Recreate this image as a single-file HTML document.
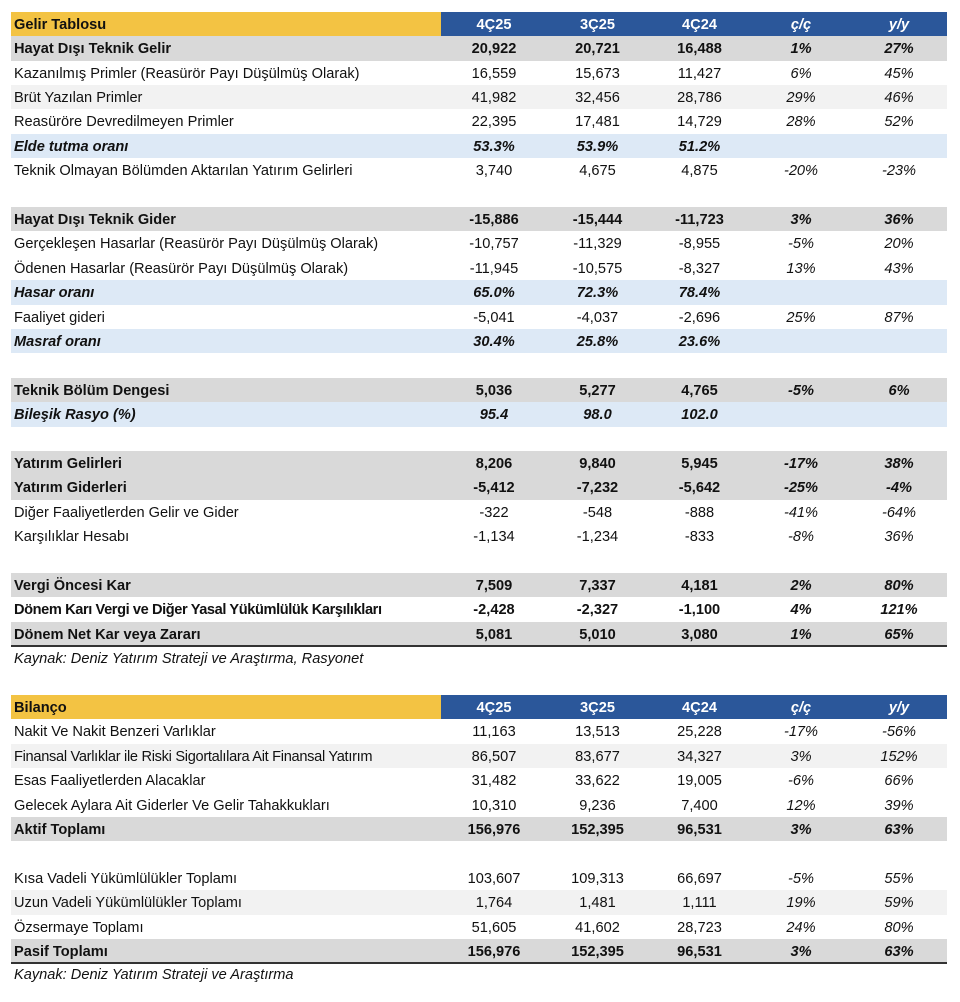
<!DOCTYPE html>
<html><head><meta charset="utf-8"><style>
body{margin:0;width:960px;height:1002px;background:#fff;position:relative;font-family:"Liberation Sans",sans-serif;font-size:14.6px;color:#111;overflow:hidden}
.r{position:absolute;left:11px;width:936px;height:24.4px;line-height:26px;display:flex;white-space:nowrap}
.r div{text-align:center}
.r .l{width:427px;padding-left:3px;text-align:left}
.c1{width:106px}.c2{width:101px}.c3{width:103px}.c4{width:100px}.c5{width:96px}
.c4,.c5{font-style:italic}
.b{background:#d9d9d9;font-weight:bold}
.bw{font-weight:bold}
.q{background:#dde9f6;font-weight:bold;font-style:italic}
.a{background:#f2f2f2}
.h .l{background:#f3c343;font-weight:bold}
.h{background:#2b579a;font-weight:bold}
.h div:not(.l){color:#fff}
.line{border-bottom:2px solid #333}
.src{position:absolute;left:14px;font-style:italic;font-size:14.6px}
</style></head><body>
<div class="r h" style="top:11.8px"><div class="l">Gelir Tablosu</div><div class="c1">4Ç25</div><div class="c2">3Ç25</div><div class="c3">4Ç24</div><div class="c4">ç/ç</div><div class="c5">y/y</div></div>
<div class="r b" style="top:36.2px"><div class="l">Hayat Dışı Teknik Gelir</div><div class="c1">20,922</div><div class="c2">20,721</div><div class="c3">16,488</div><div class="c4">1%</div><div class="c5">27%</div></div>
<div class="r" style="top:60.6px"><div class="l">Kazanılmış Primler (Reasürör Payı Düşülmüş Olarak)</div><div class="c1">16,559</div><div class="c2">15,673</div><div class="c3">11,427</div><div class="c4">6%</div><div class="c5">45%</div></div>
<div class="r a" style="top:85px"><div class="l">Brüt Yazılan Primler</div><div class="c1">41,982</div><div class="c2">32,456</div><div class="c3">28,786</div><div class="c4">29%</div><div class="c5">46%</div></div>
<div class="r" style="top:109.4px"><div class="l">Reasüröre Devredilmeyen Primler</div><div class="c1">22,395</div><div class="c2">17,481</div><div class="c3">14,729</div><div class="c4">28%</div><div class="c5">52%</div></div>
<div class="r q" style="top:133.8px"><div class="l">Elde tutma oranı</div><div class="c1">53.3%</div><div class="c2">53.9%</div><div class="c3">51.2%</div><div class="c4"></div><div class="c5"></div></div>
<div class="r" style="top:158.2px"><div class="l">Teknik Olmayan Bölümden Aktarılan Yatırım Gelirleri</div><div class="c1">3,740</div><div class="c2">4,675</div><div class="c3">4,875</div><div class="c4">-20%</div><div class="c5">-23%</div></div>
<div class="r b" style="top:207px"><div class="l">Hayat Dışı Teknik Gider</div><div class="c1">-15,886</div><div class="c2">-15,444</div><div class="c3">-11,723</div><div class="c4">3%</div><div class="c5">36%</div></div>
<div class="r" style="top:231.4px"><div class="l">Gerçekleşen Hasarlar (Reasürör Payı Düşülmüş Olarak)</div><div class="c1">-10,757</div><div class="c2">-11,329</div><div class="c3">-8,955</div><div class="c4">-5%</div><div class="c5">20%</div></div>
<div class="r" style="top:255.8px"><div class="l">Ödenen Hasarlar (Reasürör Payı Düşülmüş Olarak)</div><div class="c1">-11,945</div><div class="c2">-10,575</div><div class="c3">-8,327</div><div class="c4">13%</div><div class="c5">43%</div></div>
<div class="r q" style="top:280.2px"><div class="l">Hasar oranı</div><div class="c1">65.0%</div><div class="c2">72.3%</div><div class="c3">78.4%</div><div class="c4"></div><div class="c5"></div></div>
<div class="r" style="top:304.6px"><div class="l">Faaliyet gideri</div><div class="c1">-5,041</div><div class="c2">-4,037</div><div class="c3">-2,696</div><div class="c4">25%</div><div class="c5">87%</div></div>
<div class="r q" style="top:329px"><div class="l">Masraf oranı</div><div class="c1">30.4%</div><div class="c2">25.8%</div><div class="c3">23.6%</div><div class="c4"></div><div class="c5"></div></div>
<div class="r b" style="top:377.8px"><div class="l">Teknik Bölüm Dengesi</div><div class="c1">5,036</div><div class="c2">5,277</div><div class="c3">4,765</div><div class="c4">-5%</div><div class="c5">6%</div></div>
<div class="r q" style="top:402.2px"><div class="l">Bileşik Rasyo (%)</div><div class="c1">95.4</div><div class="c2">98.0</div><div class="c3">102.0</div><div class="c4"></div><div class="c5"></div></div>
<div class="r b" style="top:451px"><div class="l">Yatırım Gelirleri</div><div class="c1">8,206</div><div class="c2">9,840</div><div class="c3">5,945</div><div class="c4">-17%</div><div class="c5">38%</div></div>
<div class="r b" style="top:475.4px"><div class="l">Yatırım Giderleri</div><div class="c1">-5,412</div><div class="c2">-7,232</div><div class="c3">-5,642</div><div class="c4">-25%</div><div class="c5">-4%</div></div>
<div class="r" style="top:499.8px"><div class="l">Diğer Faaliyetlerden Gelir ve Gider</div><div class="c1">-322</div><div class="c2">-548</div><div class="c3">-888</div><div class="c4">-41%</div><div class="c5">-64%</div></div>
<div class="r" style="top:524.2px"><div class="l">Karşılıklar Hesabı</div><div class="c1">-1,134</div><div class="c2">-1,234</div><div class="c3">-833</div><div class="c4">-8%</div><div class="c5">36%</div></div>
<div class="r b" style="top:573px"><div class="l">Vergi Öncesi Kar</div><div class="c1">7,509</div><div class="c2">7,337</div><div class="c3">4,181</div><div class="c4">2%</div><div class="c5">80%</div></div>
<div class="r bw" style="top:597.4px"><div class="l" style="letter-spacing:-0.4px">Dönem Karı Vergi ve Diğer Yasal Yükümlülük Karşılıkları</div><div class="c1">-2,428</div><div class="c2">-2,327</div><div class="c3">-1,100</div><div class="c4">4%</div><div class="c5">121%</div></div>
<div class="r b line" style="top:621.8px;height:23.4px"><div class="l">Dönem Net Kar veya Zararı</div><div class="c1">5,081</div><div class="c2">5,010</div><div class="c3">3,080</div><div class="c4">1%</div><div class="c5">65%</div></div>
<div class="src" style="top:648px;line-height:22px">Kaynak: Deniz Yatırım Strateji ve Araştırma, Rasyonet</div>
<div class="r h" style="top:695px"><div class="l">Bilanço</div><div class="c1">4Ç25</div><div class="c2">3Ç25</div><div class="c3">4Ç24</div><div class="c4">ç/ç</div><div class="c5">y/y</div></div>
<div class="r" style="top:719.4px"><div class="l">Nakit Ve Nakit Benzeri Varlıklar</div><div class="c1">11,163</div><div class="c2">13,513</div><div class="c3">25,228</div><div class="c4">-17%</div><div class="c5">-56%</div></div>
<div class="r a" style="top:743.8px"><div class="l" style="letter-spacing:-0.3px">Finansal Varlıklar ile Riski Sigortalılara Ait Finansal Yatırım</div><div class="c1">86,507</div><div class="c2">83,677</div><div class="c3">34,327</div><div class="c4">3%</div><div class="c5">152%</div></div>
<div class="r" style="top:768.2px"><div class="l">Esas Faaliyetlerden Alacaklar</div><div class="c1">31,482</div><div class="c2">33,622</div><div class="c3">19,005</div><div class="c4">-6%</div><div class="c5">66%</div></div>
<div class="r" style="top:792.6px"><div class="l">Gelecek Aylara Ait Giderler Ve Gelir Tahakkukları</div><div class="c1">10,310</div><div class="c2">9,236</div><div class="c3">7,400</div><div class="c4">12%</div><div class="c5">39%</div></div>
<div class="r b" style="top:817px"><div class="l">Aktif Toplamı</div><div class="c1">156,976</div><div class="c2">152,395</div><div class="c3">96,531</div><div class="c4">3%</div><div class="c5">63%</div></div>
<div class="r" style="top:865.8px"><div class="l">Kısa Vadeli Yükümlülükler Toplamı</div><div class="c1">103,607</div><div class="c2">109,313</div><div class="c3">66,697</div><div class="c4">-5%</div><div class="c5">55%</div></div>
<div class="r a" style="top:890.2px"><div class="l">Uzun Vadeli Yükümlülükler Toplamı</div><div class="c1">1,764</div><div class="c2">1,481</div><div class="c3">1,111</div><div class="c4">19%</div><div class="c5">59%</div></div>
<div class="r" style="top:914.6px"><div class="l">Özsermaye Toplamı</div><div class="c1">51,605</div><div class="c2">41,602</div><div class="c3">28,723</div><div class="c4">24%</div><div class="c5">80%</div></div>
<div class="r b line" style="top:939px;height:23.4px"><div class="l">Pasif Toplamı</div><div class="c1">156,976</div><div class="c2">152,395</div><div class="c3">96,531</div><div class="c4">3%</div><div class="c5">63%</div></div>
<div class="src" style="top:964px;line-height:22px">Kaynak: Deniz Yatırım Strateji ve Araştırma</div>
</body></html>
